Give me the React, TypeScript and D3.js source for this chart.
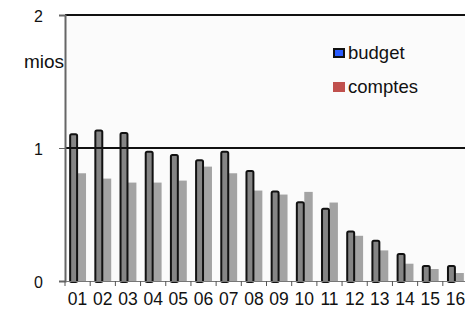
import React, { useEffect, useRef } from 'react';
import * as d3 from 'd3';

const categories = ['01', '02', '03', '04', '05', '06', '07', '08', '09', '10', '11', '12', '13', '14', '15', '16'];
const budget = [1.11, 1.14, 1.12, 0.98, 0.955, 0.915, 0.98, 0.835, 0.68, 0.6, 0.55, 0.38, 0.31, 0.21, 0.12, 0.12];
const comptes = [0.81, 0.77, 0.74, 0.74, 0.755, 0.86, 0.81, 0.68, 0.65, 0.67, 0.59, 0.34, 0.23, 0.13, 0.09, 0.06];
const yTicks = [0, 1, 2];

export default function App() {
  const svgRef = useRef<SVGSVGElement>(null);

  useEffect(() => {
    const svg = d3.select(svgRef.current);
    svg.selectAll('*').remove();

    const width = 465;
    const margin = { top: 15, left: 65, bottom: 281, right: 468 };
    const font = 'Liberation Sans, Arial, sans-serif';

    const x = d3.scaleBand()
      .domain(categories)
      .range([margin.left, margin.right])
      .paddingInner(0.33)
      .paddingOuter(0.165);

    const xSub = d3.scaleBand()
      .domain(['budget', 'comptes'])
      .range([0, x.bandwidth()]);

    const y = d3.scaleLinear().domain([0, 2]).range([margin.bottom, margin.top]);

    // plot background
    svg.append('rect')
      .attr('x', margin.left)
      .attr('y', margin.top)
      .attr('width', width - margin.left)
      .attr('height', margin.bottom - margin.top)
      .attr('fill', '#fbfbfb');

    // bars
    svg.append('g')
      .selectAll('rect')
      .data(comptes)
      .enter()
      .append('rect')
      .attr('x', (d, i) => (x(categories[i]) ?? 0) + (xSub('comptes') ?? 0))
      .attr('y', (d) => y(d))
      .attr('width', xSub.bandwidth())
      .attr('height', (d) => y(0) - y(d))
      .attr('fill', '#a3a3a3');

    svg.append('g')
      .selectAll('rect')
      .data(budget)
      .enter()
      .append('rect')
      .attr('x', (d, i) => (x(categories[i]) ?? 0) + (xSub('budget') ?? 0) + 1)
      .attr('y', (d) => y(d) + 1)
      .attr('width', xSub.bandwidth() - 1.5)
      .attr('height', (d) => y(0) - y(d))
      .attr('rx', 1.5)
      .attr('fill', '#858585')
      .attr('stroke', '#111')
      .attr('stroke-width', 2);

    // gridlines (1 and 2)
    svg.append('g')
      .selectAll('line')
      .data(yTicks.filter((t) => t > 0))
      .enter()
      .append('line')
      .attr('x1', margin.left)
      .attr('x2', width)
      .attr('y1', (d) => y(d))
      .attr('y2', (d) => y(d))
      .attr('stroke', '#111')
      .attr('stroke-width', 2);

    // y axis
    const yAxis = svg.append('g')
      .attr('transform', `translate(${margin.left},0)`)
      .call(d3.axisLeft(y).tickValues(yTicks).tickFormat(d3.format('d')).tickSize(6).tickPadding(16));
    yAxis.select('.domain').attr('stroke', '#666').attr('stroke-width', 2);
    yAxis.selectAll('.tick line').attr('stroke', '#666');
    yAxis.selectAll('text').attr('font-family', font).attr('font-size', 16).attr('fill', '#111').attr('dy', '0.4em');

    // x axis
    const xAxis = svg.append('g')
      .attr('transform', `translate(0,${margin.bottom})`)
      .call(d3.axisBottom(x).tickSize(0).tickPadding(12));
    xAxis.select('.domain').attr('stroke', '#777');
    xAxis.selectAll('text').attr('font-family', font).attr('font-size', 17.5).attr('fill', '#111');

    const step = x.step();
    svg.append('g')
      .selectAll('line')
      .data(categories)
      .enter()
      .append('line')
      .attr('x1', (d) => (x(d) ?? 0) - step * 0.165)
      .attr('x2', (d) => (x(d) ?? 0) - step * 0.165)
      .attr('y1', margin.bottom)
      .attr('y2', margin.bottom + 5)
      .attr('stroke', '#555');

    // unit label
    svg.append('text')
      .attr('x', 24)
      .attr('y', 68)
      .attr('font-family', font)
      .attr('font-size', 19)
      .attr('fill', '#111')
      .text('mios');

    // legend
    const legend = [
      { name: 'budget', color: '#2a5cff', stroke: '#111', ty: 59 },
      { name: 'comptes', color: '#c0504d', stroke: 'none', ty: 93 },
    ];
    const lg = svg.append('g');
    lg.selectAll('rect')
      .data(legend)
      .enter()
      .append('rect')
      .attr('x', (d) => (d.stroke === 'none' ? 333 : 334))
      .attr('y', (d) => (d.stroke === 'none' ? d.ty - 11 : d.ty - 10))
      .attr('width', (d) => (d.stroke === 'none' ? 12 : 10))
      .attr('height', (d) => (d.stroke === 'none' ? 10 : 8))
      .attr('fill', (d) => d.color)
      .attr('stroke', (d) => d.stroke)
      .attr('stroke-width', 2);
    lg.selectAll('text')
      .data(legend)
      .enter()
      .append('text')
      .attr('x', 348)
      .attr('y', (d) => d.ty)
      .attr('font-family', font)
      .attr('font-size', 18.5)
      .attr('fill', '#111')
      .text((d) => d.name);
  }, []);

  return (
    <svg
      ref={svgRef}
      width={465}
      height={310}
      style={{ position: 'absolute', left: 0, top: 0, background: '#fff' }}
    />
  );
}
